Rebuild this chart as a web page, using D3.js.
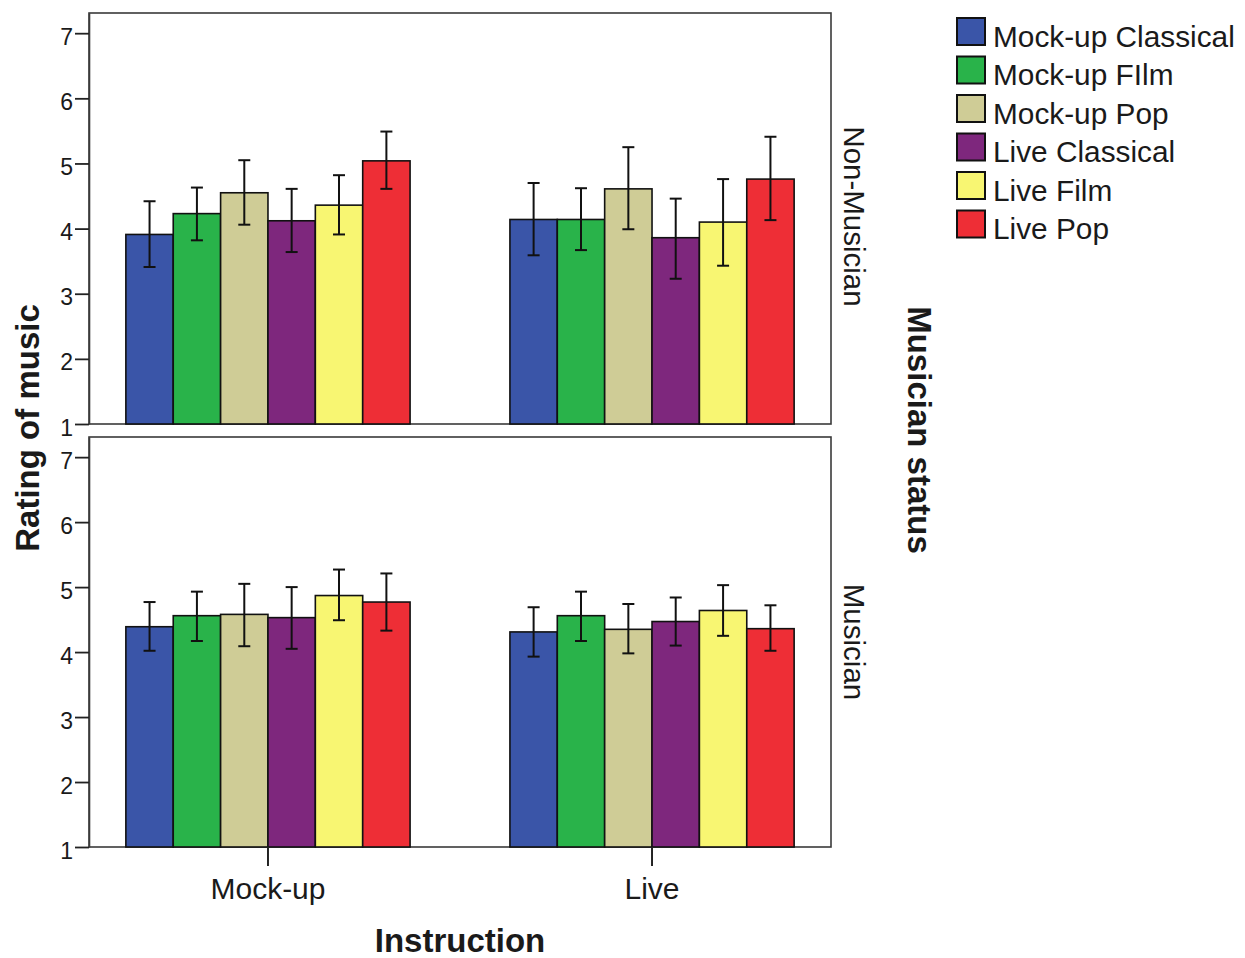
<!DOCTYPE html>
<html>
<head>
<meta charset="utf-8">
<script src="https://cdn.jsdelivr.net/npm/d3@7"></script>
<style>
  html, body { margin: 0; padding: 0; background: #fff; }
  svg { display: block; }
  text { font-family: "Liberation Sans", Arial, sans-serif; fill: #1a1a1a; }
</style>
</head>
<body>
<svg id="chart" width="1245" height="958"></svg>
<script>
// ---- Data ----
const series = ["Mock-up Classical", "Mock-up FIlm", "Mock-up Pop", "Live Classical", "Live Film", "Live Pop"];
const colors = ["#3a55a8", "#29b34a", "#cfcc96", "#7e277d", "#f8f672", "#ee2e36"];
const instructions = ["Mock-up", "Live"];
const statuses = ["Non-Musician", "Musician"];
const yTicks = [1, 2, 3, 4, 5, 6, 7];

// Non-Musician
const nonMusMockMean = [3.91, 4.23, 4.55, 4.12, 4.36, 5.04];
const nonMusMockLo   = [3.41, 3.82, 4.06, 3.64, 3.91, 4.61];
const nonMusMockHi   = [4.42, 4.63, 5.05, 4.61, 4.82, 5.49];
const nonMusLiveMean = [4.14, 4.14, 4.61, 3.86, 4.10, 4.76];
const nonMusLiveLo   = [3.59, 3.67, 3.99, 3.23, 3.43, 4.13];
const nonMusLiveHi   = [4.70, 4.62, 5.25, 4.46, 4.76, 5.41];
// Musician
const musMockMean = [4.39, 4.56, 4.58, 4.53, 4.87, 4.77];
const musMockLo   = [4.02, 4.17, 4.09, 4.05, 4.49, 4.33];
const musMockHi   = [4.77, 4.93, 5.05, 5.00, 5.27, 5.21];
const musLiveMean = [4.31, 4.56, 4.35, 4.47, 4.64, 4.36];
const musLiveLo   = [3.93, 4.17, 3.98, 4.10, 4.25, 4.02];
const musLiveHi   = [4.69, 4.93, 4.74, 4.84, 5.03, 4.72];

const panelData = {
  "Non-Musician": {
    "Mock-up": [nonMusMockMean, nonMusMockLo, nonMusMockHi],
    "Live": [nonMusLiveMean, nonMusLiveLo, nonMusLiveHi]
  },
  "Musician": {
    "Mock-up": [musMockMean, musMockLo, musMockHi],
    "Live": [musLiveMean, musLiveLo, musLiveHi]
  }
};

// ---- Layout ----
const svg = d3.select("#chart");
const x0 = 89, x1 = 831;
const panels = [
  { status: "Non-Musician", top: 13, bottom: 424 },
  { status: "Musician", top: 437, bottom: 847 }
];

const x = d3.scaleBand().domain(instructions).range([x0, x1]).paddingInner(0.26).paddingOuter(0.096);
const xs = d3.scaleBand().domain(series).range([0, x.bandwidth()]);
const color = d3.scaleOrdinal().domain(series).range(colors);

panels.forEach((p, pi) => {
  const y = d3.scaleLinear().domain([1, 7.31]).range([p.bottom, p.top]);
  const g = svg.append("g");

  // frame (top, right, bottom)
  g.append("rect")
    .attr("x", x0).attr("y", p.top)
    .attr("width", x1 - x0).attr("height", p.bottom - p.top)
    .attr("fill", "none").attr("stroke", "#3a3a3a").attr("stroke-width", 1.6);

  // bars
  instructions.forEach(ins => {
    const [mean, lo, hi] = panelData[p.status][ins];
    const rows = series.map((s, i) => ({ s, m: mean[i], lo: lo[i], hi: hi[i] }));
    const gg = g.append("g").attr("transform", `translate(${x(ins)},0)`);
    gg.selectAll("rect.bar").data(rows).join("rect")
      .attr("class", "bar")
      .attr("x", d => xs(d.s))
      .attr("y", d => y(d.m))
      .attr("width", xs.bandwidth())
      .attr("height", d => y(1) - y(d.m))
      .attr("fill", d => color(d.s))
      .attr("stroke", "#111").attr("stroke-width", 1.6);
    const eb = gg.selectAll("g.eb").data(rows).join("g").attr("class", "eb")
      .attr("stroke", "#111").attr("stroke-width", 2);
    const cx = d => xs(d.s) + xs.bandwidth() / 2;
    eb.append("line").attr("x1", cx).attr("x2", cx).attr("y1", d => y(d.lo)).attr("y2", d => y(d.hi));
    eb.append("line").attr("x1", d => cx(d) - 6).attr("x2", d => cx(d) + 6).attr("y1", d => y(d.hi)).attr("y2", d => y(d.hi));
    eb.append("line").attr("x1", d => cx(d) - 6).attr("x2", d => cx(d) + 6).attr("y1", d => y(d.lo)).attr("y2", d => y(d.lo));
  });

  // y axis
  const ya = g.append("g").attr("transform", `translate(${x0},0)`)
    .call(d3.axisLeft(y).tickValues(yTicks).tickFormat(d3.format("d")).tickSize(14).tickSizeOuter(0).tickPadding(2));
  ya.select(".domain").attr("stroke", "#3a3a3a").attr("stroke-width", 1.6);
  ya.selectAll(".tick line").attr("stroke", "#222").attr("stroke-width", 1.8);
  ya.selectAll(".tick text").attr("font-size", 23).attr("dy", "0.48em")
    .attr("font-family", "Liberation Sans, Arial, sans-serif").attr("fill", "#1a1a1a");

  // facet label
  const cy = (p.top + p.bottom) / 2 + (pi === 0 ? -2 : 0);
  svg.append("text")
    .attr("transform", `translate(844,${cy}) rotate(90)`)
    .attr("text-anchor", "middle")
    .attr("font-size", 29.5)
    .text(p.status);

  if (pi === 1) {
    const xa = g.append("g").attr("transform", `translate(0,${p.bottom})`)
      .call(d3.axisBottom(x).tickSize(19).tickSizeOuter(0).tickPadding(12));
    xa.select(".domain").remove();
    xa.selectAll(".tick line").attr("stroke", "#222").attr("stroke-width", 2);
    xa.selectAll(".tick text").attr("font-size", 30)
      .attr("font-family", "Liberation Sans, Arial, sans-serif").attr("fill", "#1a1a1a");
  }
});

// axis titles
svg.append("text")
  .attr("x", (x0 + x1) / 2).attr("y", 952)
  .attr("text-anchor", "middle").attr("font-size", 33).attr("font-weight", "bold")
  .text("Instruction");
svg.append("text")
  .attr("transform", "translate(39,428) rotate(-90)")
  .attr("text-anchor", "middle").attr("font-size", 33).attr("font-weight", "bold")
  .text("Rating of music");
svg.append("text")
  .attr("transform", "translate(908,430) rotate(90)")
  .attr("text-anchor", "middle").attr("font-size", 33).attr("font-weight", "bold")
  .text("Musician status");

// legend
const lg = svg.append("g");
series.forEach((s, i) => {
  const yy = 18 + i * 38.5;
  lg.append("rect").attr("x", 957).attr("y", yy).attr("width", 28).attr("height", 27)
    .attr("fill", color(s)).attr("stroke", "#111").attr("stroke-width", 2);
  lg.append("text").attr("x", 993).attr("y", yy + 28.5).attr("font-size", 29.8).text(s);
});
</script>
</body>
</html>
